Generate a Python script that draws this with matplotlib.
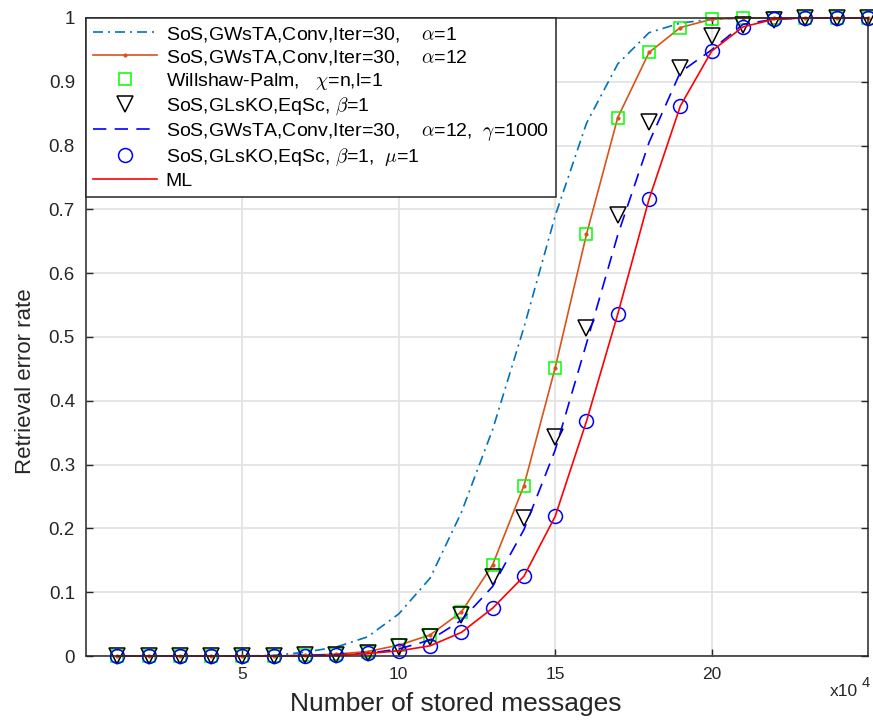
import matplotlib
matplotlib.use('Agg')
import matplotlib.pyplot as plt

plt.rcParams['font.family'] = ['Liberation Sans', 'DejaVu Sans']
plt.rcParams['mathtext.fontset'] = 'cm'

# number of stored messages (x10^4)
messages = list(range(1, 26))

gwsta_a1 = [0, 0, 0, 0, 0, 0.001, 0.006, 0.014, 0.03, 0.066, 0.122, 0.225, 0.355,
            0.515, 0.69, 0.835, 0.928, 0.977, 0.992, 0.998, 1, 1, 1, 1, 1]
gwsta_a12 = [0, 0, 0, 0, 0, 0, 0.001, 0.003, 0.007, 0.017, 0.033, 0.069, 0.143,
             0.267, 0.452, 0.661, 0.844, 0.946, 0.985, 0.998, 1, 1, 1, 1, 1]
willshaw = [0, 0, 0, 0, 0, 0, 0.001, 0.003, 0.007, 0.017, 0.033, 0.069, 0.143,
            0.267, 0.452, 0.661, 0.844, 0.946, 0.985, 0.998, 1, 1, 1, 1, 1]
glsko_b1 = [0, 0, 0, 0, 0, 0, 0.001, 0.002, 0.005, 0.0146, 0.03, 0.064, 0.124,
            0.216, 0.344, 0.514, 0.691, 0.837, 0.921, 0.971, 0.989, 0.997, 1, 1, 1]
gwsta_g1000 = [0, 0, 0, 0, 0, 0, 0.001, 0.002, 0.004, 0.011, 0.025, 0.056, 0.109,
               0.198, 0.323, 0.49, 0.66, 0.805, 0.915, 0.95, 0.99, 0.998, 1, 1, 1]
glsko_b1_mu1 = [0, 0, 0, 0, 0, 0, 0, 0.001, 0.004, 0.008, 0.016, 0.037, 0.075,
                0.125, 0.219, 0.368, 0.536, 0.716, 0.862, 0.948, 0.986, 0.998, 1, 1, 1]
ml = [0, 0, 0, 0, 0, 0, 0, 0.001, 0.004, 0.008, 0.016, 0.037, 0.075,
      0.125, 0.219, 0.368, 0.536, 0.716, 0.862, 0.948, 0.986, 0.998, 1, 1, 1]

x_ticks = [5, 10, 15, 20]
y_ticks = [0, 0.1, 0.2, 0.3, 0.4, 0.5, 0.6, 0.7, 0.8, 0.9, 1]
y_ticklabels = ['0', '0.1', '0.2', '0.3', '0.4', '0.5', '0.6', '0.7', '0.8', '0.9', '1']

fig = plt.figure(figsize=(8.73, 7.22), dpi=100)
ax = fig.add_axes([0.0985, 0.0914, 0.8958, 0.8837])

ax.plot(messages, gwsta_a1, color='#0072BD', lw=1.2, dashes=(6, 3, 1.2, 3),
        label=r'SoS,GWsTA,Conv,Iter=30,    $\alpha$=1', clip_on=False)
ax.plot(messages, gwsta_a12, color='#D95319', lw=1.2, marker='.', ms=4,
        label=r'SoS,GWsTA,Conv,Iter=30,    $\alpha$=12', clip_on=False)
ax.plot(messages, willshaw, ls='none', marker='s', ms=8.5, mfc='none', mec='#00FF00',
        mew=1.1, label=r'Willshaw-Palm,   $\chi$=n,l=1', clip_on=False)
ax.plot(messages, glsko_b1, ls='none', marker='v', ms=11, mfc='none', mec='black',
        mew=1.1, label=r'SoS,GLsKO,EqSc, $\beta$=1', clip_on=False)
ax.plot(messages, gwsta_g1000, color='#0000FF', lw=1.2, dashes=(8, 5),
        label=r'SoS,GWsTA,Conv,Iter=30,    $\alpha$=12,  $\gamma$=1000', clip_on=False)
ax.plot(messages, glsko_b1_mu1, ls='none', marker='o', ms=10, mfc='none', mec='#0000FF',
        mew=1.1, label=r'SoS,GLsKO,EqSc, $\beta$=1,  $\mu$=1', clip_on=False)
ax.plot(messages, ml, color='#FF0000', lw=1.2, label='ML', clip_on=False)

ax.set_xlim(0, 25)
ax.set_ylim(0, 1)
ax.set_xticks(x_ticks)
ax.set_yticks(y_ticks)
ax.set_yticklabels(y_ticklabels)
ax.grid(True, color='#e3e3e3', lw=1.3)
ax.set_axisbelow(True)
ax.tick_params(direction='in', top=True, right=True, length=5, width=1,
               color='#262626', labelcolor='#262626', pad=8)
ax.tick_params(axis='y', labelsize=13.5)
ax.tick_params(axis='x', labelsize=12.5)
for sp in ax.spines.values():
    sp.set_color('#262626')
    sp.set_linewidth(1.1)

ax.set_xlabel('Number of stored messages', fontsize=19, color='#262626')
ax.xaxis.set_label_coords(0.473, -0.056)
ax.set_ylabel('Retrieval error rate', fontsize=16, color='#262626')
ax.yaxis.set_label_coords(-0.064, 0.43)

ax.text(0.987, -0.056, 'x10', transform=ax.transAxes, ha='right', va='center',
        fontsize=12.5, color='#262626')
ax.text(0.992, -0.042, '4', transform=ax.transAxes, ha='left', va='center',
        fontsize=10.5, color='#262626')

leg = ax.legend(loc='upper left', fontsize=14, handlelength=3.3, handletextpad=0.45,
                labelspacing=0.2, borderaxespad=0, borderpad=0.35, fancybox=False,
                framealpha=1, edgecolor='#262626')
leg.get_frame().set_linewidth(1.1)

fig.savefig('out.png', dpi=100)
